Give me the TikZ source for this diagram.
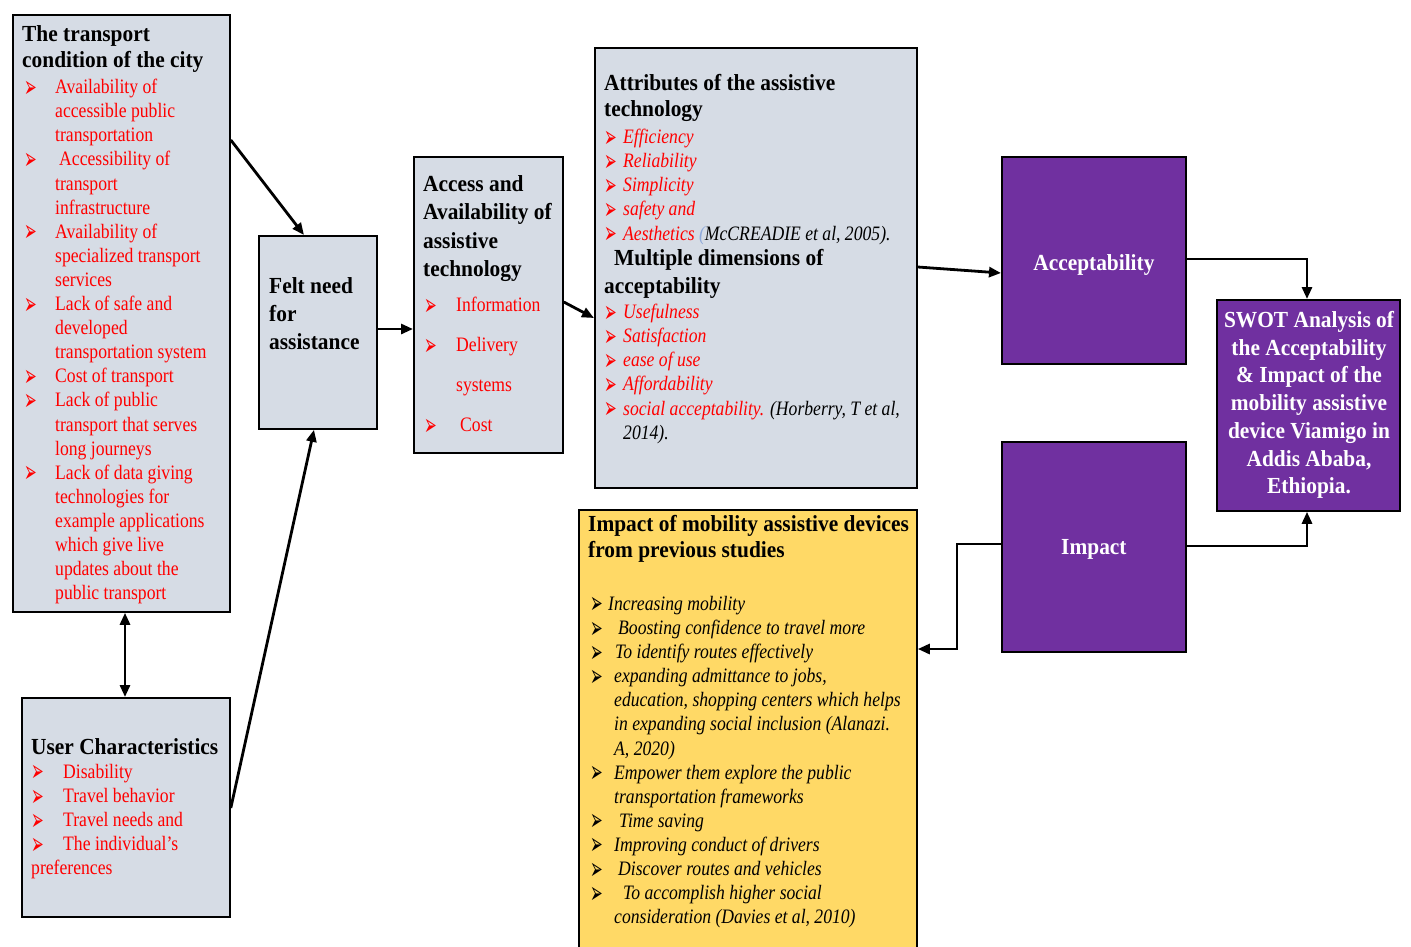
\documentclass[tikz,border=0pt]{standalone}
\usepackage{graphicx}
\usepackage{fontspec}
\setmainfont{Liberation Serif}[FakeStretch=0.86]
\newfontfamily\tfont{Liberation Serif}[FakeStretch=0.93]
\newfontfamily\dvfont{DejaVu Sans}
\usetikzlibrary{arrows.meta}
\definecolor{boxgray}{HTML}{D6DCE5}
\definecolor{boxyellow}{HTML}{FFD966}
\definecolor{boxpurple}{HTML}{7030A0}
\definecolor{citeblue}{HTML}{8EA9DB}
\newcommand{\ttl}{\tfont\bfseries\fontsize{23}{26}\selectfont}
\newcommand{\bdy}{\fontsize{20.5}{24.1}\selectfont}
\newcommand{\arr}{\smash{\raisebox{-3.5pt}{\scalebox{0.72}[1.45]{\dvfont\fontsize{21}{21}\selectfont ➢}}}}
\newcommand{\bu}[2]{\makebox[#1][l]{\arr}#2}
\newcommand{\ind}[2]{\hspace*{#1}#2}
\tikzset{
  box/.style={draw=black, line width=1.8pt, fill=boxgray, inner sep=0pt, anchor=north west},
  ybox/.style={box, fill=boxyellow},
  pbox/.style={box, fill=boxpurple},
  txt/.style={inner sep=0pt, align=left, font=\bdy, anchor=north west},
  ttxt/.style={inner sep=0pt, align=left, font=\ttl, anchor=north west},
  ptxt/.style={inner sep=0pt, align=center, font=\ttl, text=white},
  arr/.style={line width=2.8pt, -{Triangle[length=12pt,width=10pt]}},
  darr/.style={line width=2.8pt, {Triangle[length=12pt,width=10pt]}-{Triangle[length=12pt,width=10pt]}}
}
\begin{document}
\begin{tikzpicture}[x=1pt,y=-1pt]
\useasboundingbox (0,0) rectangle (1411,946);
\fill[white] (0,0) rectangle (1411,946);

% boxes
\node[box, minimum width=217pt, minimum height=597pt] (tc) at (12,14) {};
\node[box, minimum width=208pt, minimum height=219pt] (uc) at (21,697) {};
\node[box, minimum width=118pt, minimum height=193pt] (fn) at (258,235) {};
\node[box, minimum width=149pt, minimum height=296pt] (aa) at (413,156) {};
\node[box, minimum width=322pt, minimum height=440pt] (at) at (594,47) {};
\node[ybox, minimum width=338pt, minimum height=445pt] (yb) at (578,509) {};
\node[pbox, minimum width=184pt, minimum height=207pt] (ac) at (1001,156) {};
\node[pbox, minimum width=184pt, minimum height=210pt] (im) at (1001,441) {};
\node[pbox, minimum width=183pt, minimum height=211pt] (sw) at (1216,299) {};

% transport condition
\node[ttxt] (tct) at (22,25) {The transport\\condition of the city};
\node[txt, text=red] (tcl) at (24,79) {%
\bu{31pt}{Availability of}\\
\ind{31pt}{accessible public}\\
\ind{31pt}{transportation}\\
\bu{35pt}{Accessibility of}\\
\ind{31pt}{transport}\\
\ind{31pt}{infrastructure}\\
\bu{31pt}{Availability of}\\
\ind{31pt}{specialized transport}\\
\ind{31pt}{services}\\
\bu{31pt}{Lack of safe and}\\
\ind{31pt}{developed}\\
\ind{31pt}{transportation system}\\
\bu{31pt}{Cost of transport}\\
\bu{31pt}{Lack of public}\\
\ind{31pt}{transport that serves}\\
\ind{31pt}{long journeys}\\
\bu{31pt}{Lack of data giving}\\
\ind{31pt}{technologies for}\\
\ind{31pt}{example applications}\\
\ind{31pt}{which give live}\\
\ind{31pt}{updates about the}\\
\ind{31pt}{public transport}};

% user characteristics
\node[ttxt] (uct) at (31,738) {User Characteristics};
\node[txt, text=red] (ucl) at (31,764) {%
\bu{32pt}{Disability}\\
\bu{32pt}{Travel behavior}\\
\bu{32pt}{Travel needs and}\\
\bu{32pt}{The individual’s}\\
preferences};

% felt need
\node[ttxt, font=\tfont\bfseries\fontsize{23}{28}\selectfont] (fnt) at (269,277) {Felt need\\for\\assistance};

% access and availability
\node[ttxt, font=\tfont\bfseries\fontsize{23}{28.5}\selectfont] (aat) at (423,175) {Access and\\Availability of\\assistive\\technology};
\node[txt, text=red, font=\fontsize{20.5}{40}\selectfont] (aal) at (424,297) {%
\bu{32pt}{Information}\\
\bu{32pt}{Delivery}\\
\ind{32pt}{systems}\\
\bu{36pt}{Cost}};

% attributes
\node[ttxt] (att) at (604,74) {Attributes of the assistive\\technology};
\node[txt, text=red, font=\bdy\itshape] (atl) at (604,129) {%
\bu{19pt}{Efficiency}\\
\bu{19pt}{Reliability}\\
\bu{19pt}{Simplicity}\\
\bu{19pt}{safety and}\\
\bu{19pt}{Aesthetics \textcolor{citeblue}{(}\textcolor{black}{McCREADIE et al, 2005).}}};
\node[ttxt, font=\tfont\bfseries\fontsize{23}{28}\selectfont] (amt) at (604,249) {\hspace*{10pt}Multiple dimensions of\\acceptability};
\node[txt, text=red, font=\bdy\itshape] (aml) at (604,304) {%
\bu{19pt}{Usefulness}\\
\bu{19pt}{Satisfaction}\\
\bu{19pt}{ease of use}\\
\bu{19pt}{Affordability}\\
\bu{19pt}{social acceptability. \textcolor{black}{(Horberry, T et al,}}\\
\ind{19pt}{\textcolor{black}{2014).}}};

% impact of mobility assistive devices
\node[ttxt] (ybt) at (588,515) {Impact of mobility assistive devices\\from previous studies};
\node[txt, font=\bdy\itshape] (ybl) at (590,596) {%
\bu{18pt}{Increasing mobility}\\
\bu{28pt}{Boosting confidence to travel more}\\
\bu{25pt}{To identify routes effectively}\\
\bu{24pt}{expanding admittance to jobs,}\\
\ind{24pt}{education, shopping centers which helps}\\
\ind{24pt}{in expanding social inclusion (Alanazi.}\\
\ind{24pt}{A, 2020)}\\
\bu{24pt}{Empower them explore the public}\\
\ind{24pt}{transportation frameworks}\\
\bu{29pt}{Time saving}\\
\bu{24pt}{Improving conduct of drivers}\\
\bu{28pt}{Discover routes and vehicles}\\
\bu{33pt}{To accomplish higher social}\\
\ind{24pt}{consideration (Davies et al, 2010)}};

% purple boxes
\node[ptxt] (act) at ([yshift=-5pt]ac.center) {Acceptability};
\node[ptxt] (imt) at ([yshift=-3pt]im.center) {Impact};
\node[ptxt, font=\tfont\bfseries\fontsize{23}{27.7}\selectfont] (swt) at (1309,405) {SWOT Analysis of\\the Acceptability\\\& Impact of the\\mobility assistive\\device Viamigo in\\Addis Ababa,\\Ethiopia.};

% connectors
\draw[arr] (tc.east |- 0,140) -- (304,0 |- fn.north);
\draw[darr] (125,0 |- tc.south) -- (125,0 |- uc.north);
\draw[arr] (uc.east |- 0,808) -- (314,0 |- fn.south);
\draw[arr] (fn.east |- 0,329) -- (aa.west |- 0,329);
\draw[arr] (aa.east |- 0,302) -- (at.west |- 0,318);
\draw[arr] (at.east |- 0,267) -- (ac.west |- 0,273);
\draw[arr] (ac.east |- 0,259) -| (1307,0 |- sw.north);
\draw[arr] (im.east |- 0,546) -| (1307,0 |- sw.south);
\draw[arr] (im.west |- 0,544) -- ++(-44,0) |- (yb.east |- 0,649);
\end{tikzpicture}
\end{document}
